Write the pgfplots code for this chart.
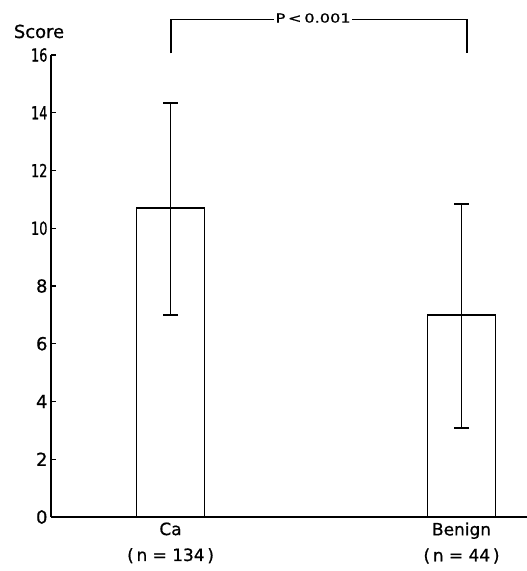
\documentclass[border=0pt]{standalone}
\usepackage{fontspec}
\setmainfont{DejaVu Sans}[FakeBold=0.8]
\usepackage{pgfplots}
\pgfplotsset{compat=1.18}
\begin{document}
\begin{tikzpicture}
\path[use as bounding box] (-51bp,-54bp) rectangle (476bp,517bp);
\begin{axis}[
  anchor=south west, at={(0,0)},
  scale only axis, width=476bp, height=462bp,
  xmin=0.589, xmax=2.225, ymin=0, ymax=16,
  axis x line=bottom, axis y line=left,
  axis line style={-, line width=1.7bp},
  ytick={0,2,...,16},
  yticklabels={0,2,4,6,8,\scalebox{0.72}[1]{10},\scalebox{0.72}[1]{12},\scalebox{0.72}[1]{14},\scalebox{0.72}[1]{16}},
  tick align=inside, major tick length=5bp,
  tick style={line width=1.3bp, black},
  xtick={1,2}, xticklabels={Ca\\(\,n = 134\,),Benign\\(\,n = 44\,)},
  xtick style={draw=none},
  xticklabel style={align=center, font=\fontsize{17}{26}\selectfont, yshift=-2bp},
  yticklabel style={font=\fontsize{18}{20}\selectfont},
  /pgf/number format/assume math mode=true,
  clip=false,
]
\addplot[ybar, bar width=0.234, fill=white, draw=black, line width=1.6bp,
  error bars/.cd, y dir=both, y explicit,
  error bar style={line width=1.8bp, black},
  error mark options={rotate=90, mark size=7.5bp, line width=1.8bp, black}]
  coordinates {
   (1,10.7) += (0,3.65) -= (0,3.7)
   (2,7.0) += (0,3.85) -= (0,3.92)
  };
\draw[line width=1.6bp] (axis cs:1.0007,16.06) |- (axis cs:2.019,17.23) -- (axis cs:2.019,16.06);
\node[fill=white, inner sep=1.5bp] at (axis cs:1.49,17.28) {\scalebox{1.3}[1]{\fontsize{12.5}{14}\selectfont P\,<\,0.001}};
\end{axis}
\node[anchor=base, font=\fontsize{18}{20}\selectfont] at (-12bp,479bp) {Score};
\end{tikzpicture}
\end{document}
